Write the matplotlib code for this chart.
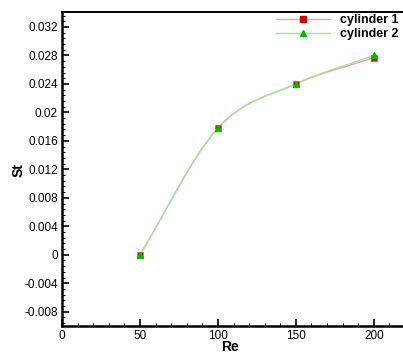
import numpy as np
import matplotlib
matplotlib.use('Agg')
from matplotlib import pyplot as plt
from matplotlib.path import Path
from matplotlib.patches import PathPatch
from matplotlib.lines import Line2D
from matplotlib.ticker import MultipleLocator, FuncFormatter

re_values = [50, 100, 150, 200]
st_cylinder_1 = [0.0, 0.0178, 0.0240, 0.0277]
st_cylinder_2 = [0.0, 0.0178, 0.0240, 0.0280]
series_names = ['cylinder 1', 'cylinder 2']

plt.rcParams['font.family'] = ['Liberation Sans', 'DejaVu Sans']


def smooth_path(x, y):
    # catmull-rom curve through the points, drawn as cubic bezier segments
    pts = np.column_stack([x, y]).astype(float)
    padded = np.vstack([2 * pts[0] - pts[1], pts, 2 * pts[-1] - pts[-2]])
    verts = [pts[0]]
    codes = [Path.MOVETO]
    for i in range(len(pts) - 1):
        p0, p1, p2, p3 = padded[i], padded[i + 1], padded[i + 2], padded[i + 3]
        verts += [p1 + (p2 - p0) / 6, p2 - (p3 - p1) / 6, p2]
        codes += [Path.CURVE4] * 3
    return Path(verts, codes)


fig = plt.figure(figsize=(4.03, 3.54), dpi=100)
ax = fig.add_axes([62 / 403, 1 - 326 / 354, 343 / 403, (326 - 12) / 354])

red_line = '#f4a0a0'
green_line = '#98e898'
ax.add_patch(PathPatch(smooth_path(re_values, st_cylinder_1), facecolor='none', edgecolor=red_line, lw=1.0, zorder=2))
ax.add_patch(PathPatch(smooth_path(re_values, st_cylinder_2), facecolor='none', edgecolor=green_line, lw=1.0, zorder=3))
ax.plot(re_values, st_cylinder_1, ls='none', marker='s', ms=5, color='#dd0000', mec='#dd6666', mew=0.6, zorder=4)
ax.plot(re_values, st_cylinder_2, ls='none', marker='^', ms=5, color='#00bb00', mec='#00bb00', zorder=5)

handles = [Line2D([], [], color=red_line, lw=1.0, marker='s', ms=5, mfc='#dd0000', mec='#dd0000'),
           Line2D([], [], color=green_line, lw=1.0, marker='^', ms=5, mfc='#00bb00', mec='#00bb00')]
leg = ax.legend(handles, series_names, loc='upper right', bbox_to_anchor=(0.999, 1.012), frameon=False,
                handlelength=4.3, handletextpad=0.8, labelspacing=0.15, borderaxespad=0.1,
                prop={'weight': 'bold', 'size': 9})

ax.set_xlim(0, 220)
ax.set_ylim(-0.010, 0.0341)
ax.xaxis.set_major_locator(MultipleLocator(50))
ax.xaxis.set_minor_locator(MultipleLocator(10))
ax.yaxis.set_major_locator(MultipleLocator(0.004))
ax.yaxis.set_minor_locator(MultipleLocator(0.0008))
ax.yaxis.set_major_formatter(FuncFormatter(lambda v, p: ('%.3f' % v).rstrip('0').rstrip('.') if abs(v) > 1e-9 else '0'))

ax.tick_params(which='both', direction='in', top=False, right=False, labelsize=8.5, pad=3)
ax.tick_params(which='major', length=5, width=1.2)
ax.tick_params(which='minor', length=2.5, width=0.8)

for side in ['left', 'bottom']:
    ax.spines[side].set_linewidth(1.8)
ax.spines['top'].set_linewidth(1.4)
ax.spines['right'].set_visible(False)

ax.set_xlabel('Re', fontsize=10, fontweight='bold', va='center')
ax.set_ylabel('St', fontsize=10, fontweight='bold', va='center')
ax.xaxis.set_label_coords((230 - 62) / 343, (326 - 347) / 314)
ax.yaxis.set_label_coords((19 - 62) / 343, (326 - 170) / 314)

fig.savefig('out.png', dpi=100)
